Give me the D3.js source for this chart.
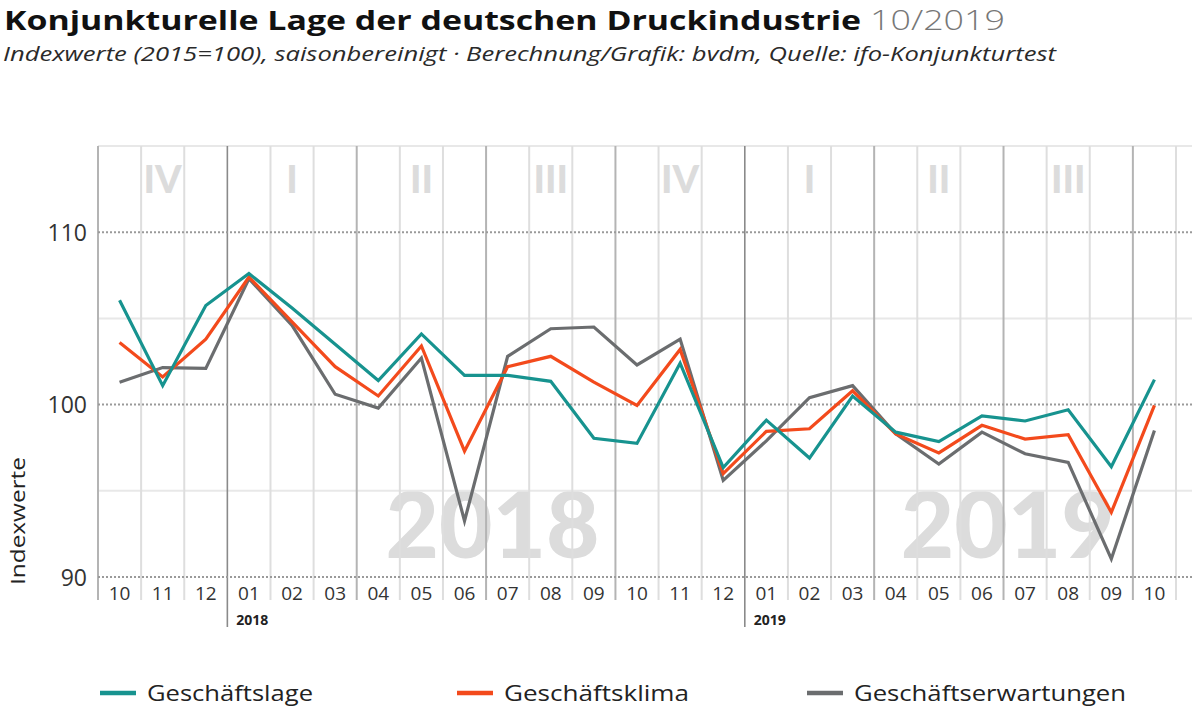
<!DOCTYPE html>
<html>
<head>
<meta charset="utf-8">
<script src="https://cdn.jsdelivr.net/npm/d3@7"></script>
<style>
  body { margin: 0; background: #fff; }
  svg { display: block; font-family: "Open Sans", Lato, sans-serif; }
</style>
</head>
<body>
<svg id="chart" width="1200" height="712"></svg>
<script>
// months from 10/2017 to 10/2019
const months = ["10","11","12","01","02","03","04","05","06","07","08","09","10","11","12",
                "01","02","03","04","05","06","07","08","09","10"];
const years = [2017,2017,2017,2018,2018,2018,2018,2018,2018,2018,2018,2018,2018,2018,2018,
               2019,2019,2019,2019,2019,2019,2019,2019,2019,2019];

const geschaeftslage = [106.05, 101.1, 105.75, 107.6, 105.6, 103.5, 101.4, 104.1, 101.7, 101.7,
                        101.35, 98.05, 97.75, 102.4, 96.35, 99.1, 96.9, 100.5, 98.4, 97.85,
                        99.35, 99.05, 99.7, 96.4, 101.45];
const geschaeftsklima = [103.6, 101.6, 103.8, 107.4, 104.8, 102.2, 100.5, 103.4, 97.3, 102.2,
                         102.8, 101.3, 99.95, 103.2, 96.0, 98.45, 98.6, 100.8, 98.3, 97.2,
                         98.8, 98.0, 98.25, 93.75, 99.95];
const geschaeftserwartungen = [101.3, 102.15, 102.1, 107.3, 104.6, 100.6, 99.8, 102.7, 93.25, 102.8,
                               104.4, 104.5, 102.3, 103.8, 95.6, 97.9, 100.4, 101.1, 98.3, 96.55,
                               98.4, 97.15, 96.65, 91.05, 98.5];

const seriesNames = ["Geschäftslage", "Geschäftsklima", "Geschäftserwartungen"];
const seriesColors = ["#17938f", "#f34a1c", "#6b6d6f"];

const quarterLabels = ["IV","I","II","III","IV","I","II","III"];
const yTicks = [90, 100, 110];
const yMinor = [95, 105, 115];

const svg = d3.select("#chart");

// fit a text element to a given width by scaling its font size
function fitWidth(sel, target) {
    const fs = parseFloat(sel.attr("font-size"));
    const w = sel.node().getComputedTextLength();
    sel.attr("font-size", fs * target / w);
}

// title
svg.append("text").attr("x", 4).attr("y", 30)
    .attr("font-weight", 700).attr("font-size", 27.5).attr("fill", "#111")
    .attr("textLength", 857).attr("lengthAdjust", "spacingAndGlyphs")
    .text("Konjunkturelle Lage der deutschen Druckindustrie");
svg.append("text").attr("x", 870).attr("y", 30)
    .attr("font-weight", 300).attr("font-size", 27.5).attr("fill", "#777")
    .attr("textLength", 135).attr("lengthAdjust", "spacingAndGlyphs")
    .text("10/2019");

svg.append("text").attr("x", 3).attr("y", 61)
    .attr("font-style", "italic").attr("font-size", 19.5).attr("fill", "#2a2a2a")
    .attr("textLength", 1053).attr("lengthAdjust", "spacingAndGlyphs")
    .text("Indexwerte (2015=100), saisonbereinigt  ·  Berechnung/Grafik: bvdm, Quelle: ifo-Konjunkturtest");

// scales
const x = d3.scaleBand().domain(d3.range(months.length)).range([98, 1176]).paddingInner(0).paddingOuter(0);
const y = d3.scaleLinear().domain([90, 115]).range([577, 146]);
const yBottom = y(90) + 23;

// watermark years
const wm = svg.append("g");
[[2018, 9.15], [2019, 21.1]].forEach(([yr, pos]) => {
    const t = wm.append("text")
        .attr("x", x(0) + pos * x.bandwidth())
        .attr("y", 558)
        .attr("text-anchor", "middle")
        .attr("font-family", "Lato, sans-serif")
        .attr("font-weight", 900).attr("font-size", 96).attr("fill", "#dcdcdc")
        .text(yr);
    fitWidth(t, 214);
});

// horizontal grid
svg.append("g").selectAll("line").data(yMinor).join("line")
    .attr("x1", 98).attr("x2", 1192)
    .attr("y1", d => y(d)).attr("y2", d => y(d))
    .attr("stroke", "#e8e8e8").attr("stroke-width", 2);

// vertical grid: month / quarter / year boundaries
const boundaries = d3.range(months.length + 1);
svg.append("g").selectAll("line").data(boundaries).join("line")
    .attr("x1", i => i < months.length ? x(i) : x.range()[1])
    .attr("x2", i => i < months.length ? x(i) : x.range()[1])
    .attr("y1", y(115))
    .attr("y2", i => months[i] === "01" ? yBottom + 27 : yBottom)
    .attr("stroke", i => {
        if (months[i] === "01") return "#8a8a8a";
        if (i < months.length && (+months[i] - 1) % 3 === 0) return "#b4b4b4";
        return "#dedede";
    })
    .attr("stroke-width", i => months[i] === "01" ? 1.6 : 2);

// dotted major lines
svg.append("g").selectAll("line").data(yTicks).join("line")
    .attr("x1", 98).attr("x2", 1192)
    .attr("y1", d => y(d)).attr("y2", d => y(d))
    .attr("stroke", "#9a9a9a").attr("stroke-width", 2)
    .attr("stroke-dasharray", "2,2");

// quarter labels
svg.append("g").selectAll("text").data(quarterLabels).join("text")
    .attr("x", (d, i) => x(i * 3) + 1.5 * x.bandwidth())
    .attr("y", 193)
    .attr("text-anchor", "middle")
    .attr("font-family", "Lato, sans-serif")
    .attr("font-weight", 900).attr("font-size", 38).attr("fill", "#dcdcdc")
    .text(d => d);

// y axis labels
const yAxis = svg.append("g").attr("transform", "translate(87,0)")
    .call(d3.axisLeft(y).tickValues(yTicks).tickSize(0).tickPadding(0));
yAxis.select(".domain").remove();
yAxis.selectAll("text").attr("font-size", 23).attr("fill", "#333")
    .attr("font-family", "'Open Sans', sans-serif").attr("dy", "0.36em");

svg.append("text")
    .attr("transform", "translate(25,521) rotate(-90)")
    .attr("text-anchor", "middle").attr("font-size", 20).attr("fill", "#222")
    .attr("textLength", 128).attr("lengthAdjust", "spacingAndGlyphs")
    .text("Indexwerte");

// x axis month labels
svg.append("g").selectAll("text").data(months).join("text")
    .attr("x", (d, i) => x(i) + x.bandwidth() / 2)
    .attr("y", 600)
    .attr("text-anchor", "middle").attr("font-size", 19).attr("fill", "#333")
    .text(d => d);

// year labels under january
const yearStarts = months.map((m, i) => i).filter(i => months[i] === "01");
svg.append("g").selectAll("text").data(yearStarts).join("text")
    .attr("x", i => x(i) + 9)
    .attr("y", 625)
    .attr("font-weight", 700).attr("font-size", 14).attr("fill", "#222")
    .text(i => years[i]);

// lines
const line = d3.line()
    .x((d, i) => x(i) + x.bandwidth() / 2)
    .y(d => y(d));

const allSeries = [geschaeftslage, geschaeftsklima, geschaeftserwartungen];
// grey first, teal on top
[2, 1, 0].forEach(k => {
    svg.append("path")
        .datum(allSeries[k])
        .attr("d", line)
        .attr("fill", "none")
        .attr("stroke", seriesColors[k])
        .attr("stroke-width", 3.2)
        .attr("stroke-linejoin", "miter");
});

// legend
const legendX = [100, 457, 807];
const legendW = [166, 185, 272];
const legend = svg.append("g").selectAll("g").data(seriesNames).join("g")
    .attr("transform", (d, i) => `translate(${legendX[i]},693)`);
legend.append("line")
    .attr("x1", 0).attr("x2", 36)
    .attr("stroke", (d, i) => seriesColors[i]).attr("stroke-width", 4.5);
legend.append("text")
    .attr("x", 47).attr("y", 8)
    .attr("font-size", 21).attr("fill", "#222")
    .attr("textLength", (d, i) => legendW[i]).attr("lengthAdjust", "spacingAndGlyphs")
    .text(d => d);
</script>
</body>
</html>
